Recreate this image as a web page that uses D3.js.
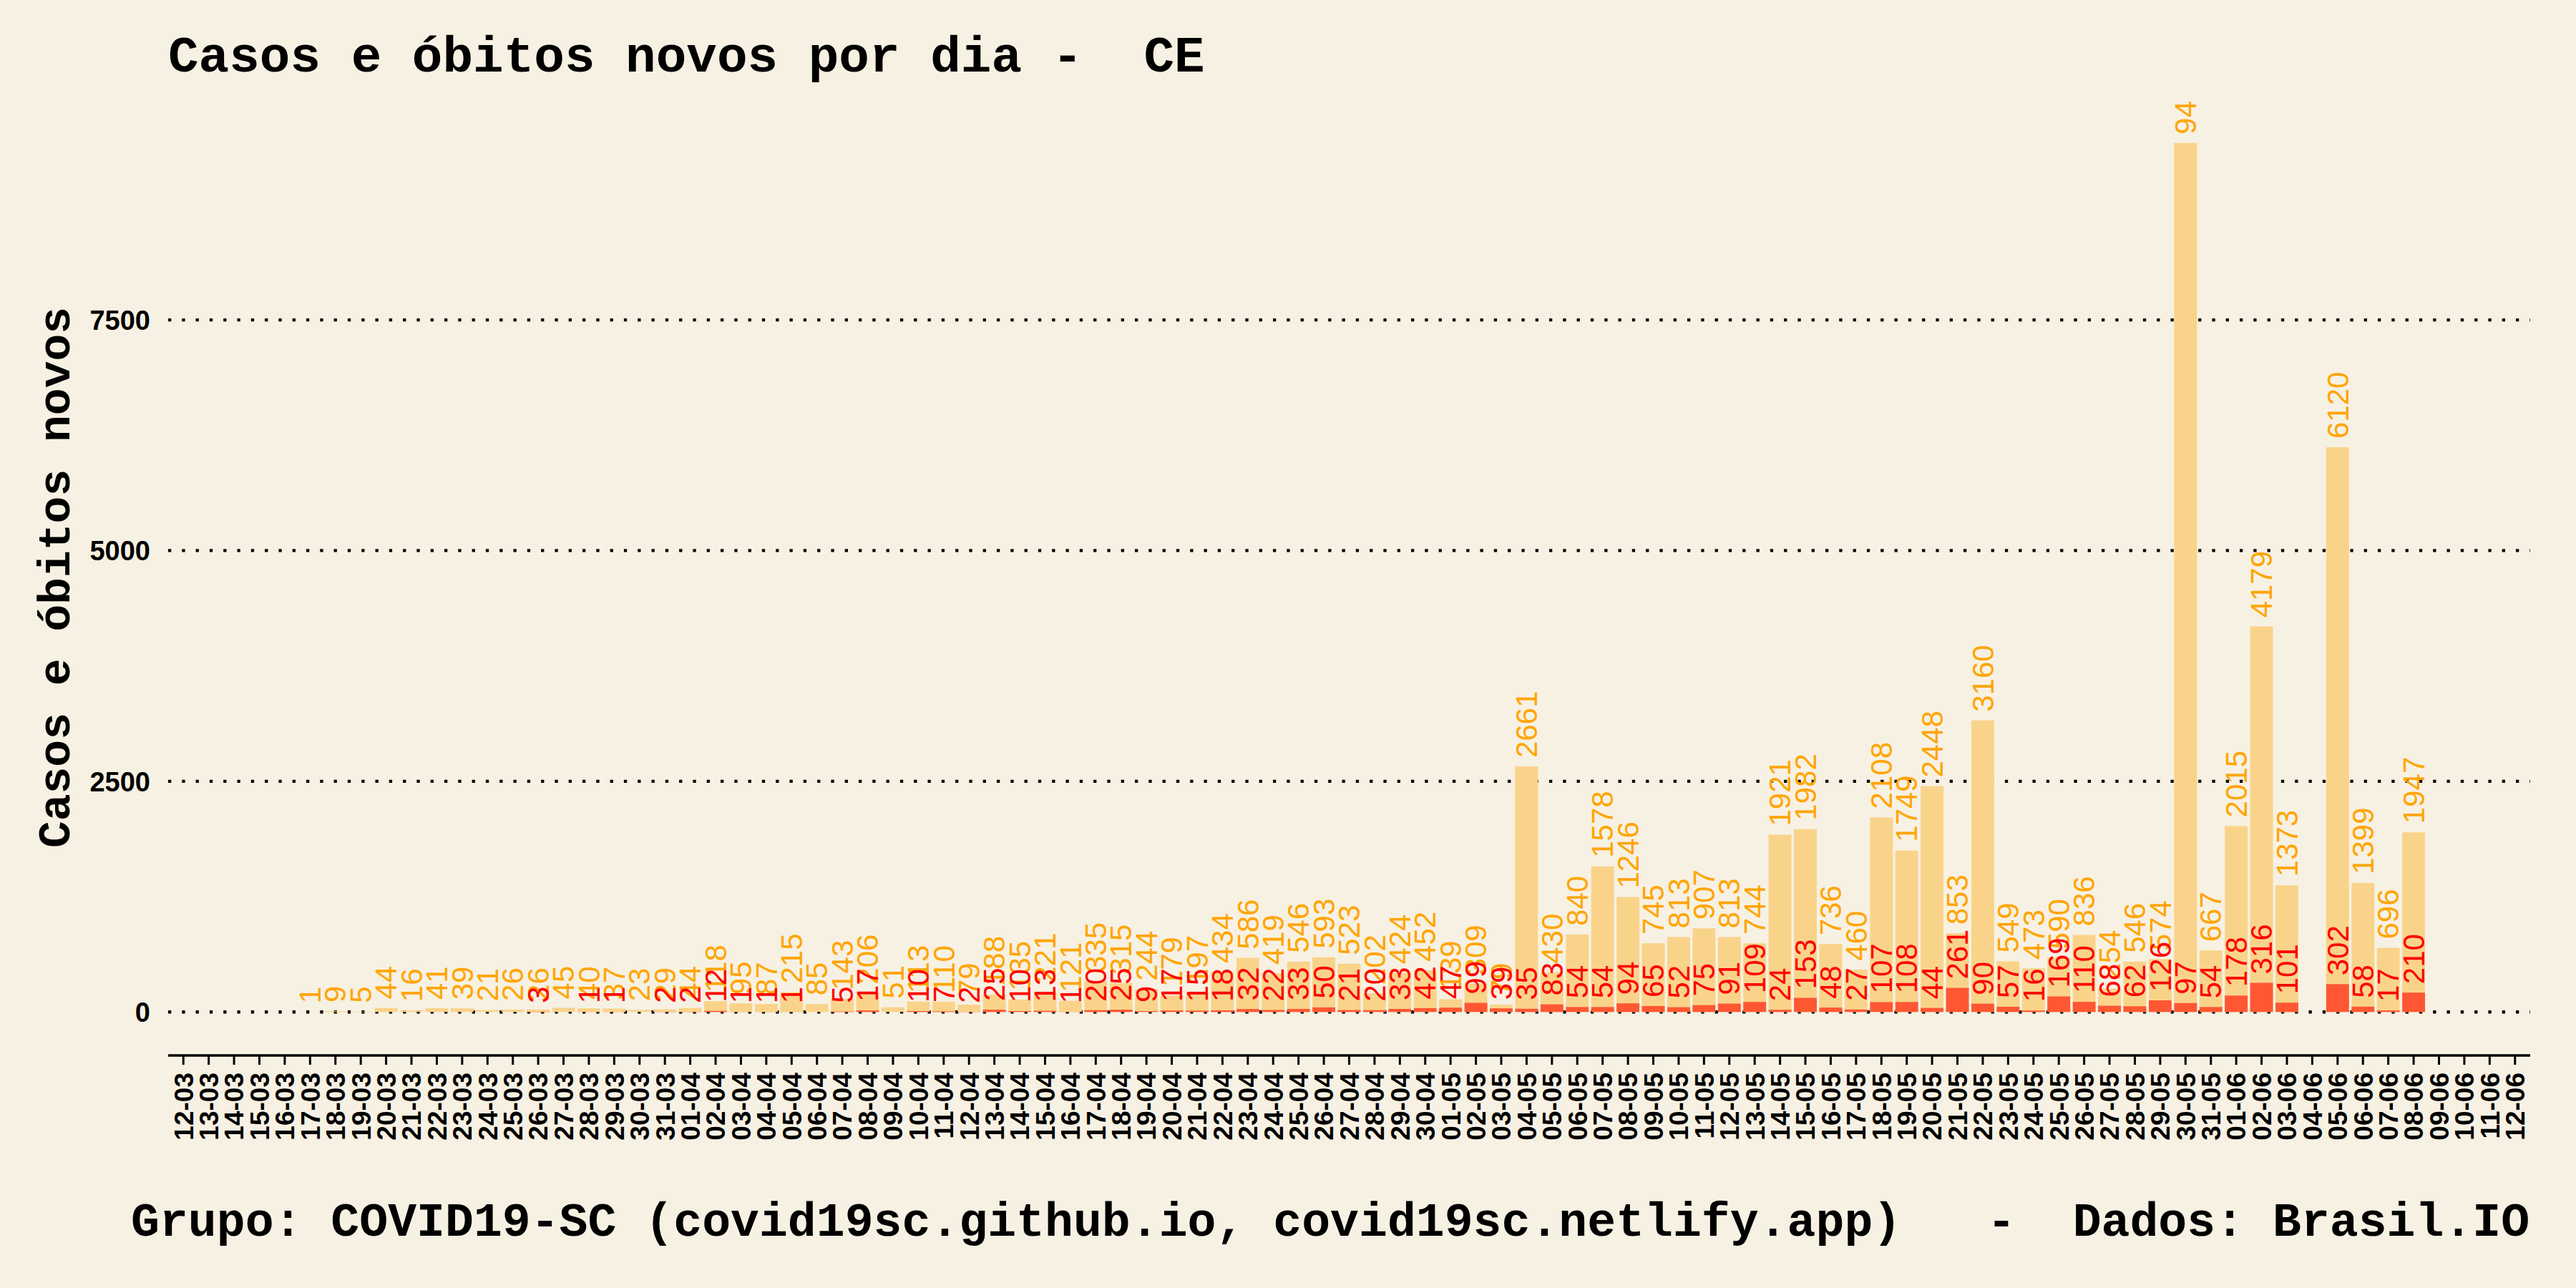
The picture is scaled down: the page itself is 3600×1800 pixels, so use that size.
<!DOCTYPE html>
<html><head><meta charset="utf-8">
<script src="https://cdn.jsdelivr.net/npm/d3@7"></script>
<style>html,body{margin:0;padding:0;background:#F7F1E3}</style>
</head><body>
<svg id="c" width="3600" height="1800"></svg>
<script>
const dates = [
"12-03","13-03","14-03","15-03","16-03","17-03","18-03","19-03","20-03","21-03","22-03","23-03","24-03","25-03","26-03","27-03","28-03","29-03","30-03","31-03",
"01-04","02-04","03-04","04-04","05-04","06-04","07-04","08-04","09-04","10-04","11-04","12-04","13-04","14-04","15-04","16-04","17-04","18-04","19-04","20-04","21-04","22-04","23-04","24-04","25-04","26-04","27-04","28-04","29-04","30-04",
"01-05","02-05","03-05","04-05","05-05","06-05","07-05","08-05","09-05","10-05","11-05","12-05","13-05","14-05","15-05","16-05","17-05","18-05","19-05","20-05","21-05","22-05","23-05","24-05","25-05","26-05","27-05","28-05","29-05","30-05","31-05",
"01-06","02-06","03-06","04-06","05-06","06-06","07-06","08-06","09-06","10-06","11-06","12-06"];
const cases = [
null,null,null,null,null,1,9,5,44,16,41,39,21,26,26,45,40,37,23,29,
44,118,95,87,215,85,143,206,51,113,110,79,188,135,221,121,335,315,244,179,197,434,586,419,546,593,523,202,424,452,
139,309,79,2661,430,840,1578,1246,745,813,907,813,744,1921,1982,736,460,2108,1749,2448,853,3160,549,473,590,836,254,546,574,9418,667,
2015,4179,1373,null,6120,1399,696,1947,null,null,null,null];
const deaths = [
null,null,null,null,null,0,0,0,0,0,0,0,0,0,3,0,1,1,0,2,
2,12,1,1,1,0,5,17,0,10,7,2,25,10,13,1,20,25,9,17,15,18,32,22,33,50,21,20,33,42,
47,99,39,35,83,54,54,94,65,52,75,91,109,24,153,48,27,107,108,44,261,90,57,16,169,110,68,62,126,97,54,
178,316,101,null,302,58,17,210,null,null,null,null];
const yTicks = [0, 2500, 5000, 7500];
const title = "Casos e óbitos novos por dia -  CE";
const yTitle = "Casos e óbitos novos";
const footer = "Grupo: COVID19-SC (covid19sc.github.io, covid19sc.netlify.app)   -  Dados: Brasil.IO";

const svg = d3.select("#c");
svg.append("rect").attr("width",3600).attr("height",1800).attr("fill","#F7F1E3");

const L = 235, R = 3536, T = 139, B = 1475;
const M = d3.max(cases);
const x = d3.scalePoint().domain(dates).range([L, R]).padding(0.6);
const bw = x.step() * 0.9;
const y = d3.scaleLinear().domain([-0.05 * M, 1.05 * M]).range([B, T]);

const rows = dates.map((d, i) => ({d, c: cases[i], m: deaths[i]}));

// grid
svg.append("g").selectAll("line").data(yTicks).join("line")
  .attr("x1", L).attr("x2", R).attr("y1", d => y(d)).attr("y2", d => y(d))
  .attr("stroke", "#000").attr("stroke-width", 4.3).attr("stroke-dasharray", "4.3,15");

// y tick labels
svg.append("g").selectAll("text").data(yTicks).join("text")
  .attr("x", 210).attr("y", d => y(d)).attr("dy", "0.36em")
  .attr("text-anchor", "end")
  .attr("font-family", "Liberation Sans, Arial, sans-serif").attr("font-weight", "bold").attr("font-size", 38)
  .text(d => d);

// bars
const bars = rows.filter(r => r.c != null);
svg.append("g").selectAll("rect").data(bars).join("rect")
  .attr("x", r => x(r.d) - bw / 2).attr("width", bw)
  .attr("y", r => y(r.c)).attr("height", r => y(0) - y(r.c))
  .attr("fill", "#FAD38A");
svg.append("g").selectAll("rect").data(bars.filter(r => r.m > 0)).join("rect")
  .attr("x", r => x(r.d) - bw / 2).attr("width", bw)
  .attr("y", r => y(r.m)).attr("height", r => y(0) - y(r.m))
  .attr("fill", "#FF5733");

// labels
function labels(key, color) {
  svg.append("g").selectAll("text").data(bars.filter(r => r[key] > 0)).join("text")
    .attr("transform", r => `translate(${x(r.d)},${y(r[key]) - 12}) rotate(-90)`)
    .attr("dy", "0.35em")
    .attr("text-anchor", "start")
    .attr("font-family", "Liberation Sans, Arial, sans-serif").attr("font-size", 42)
    .attr("fill", color)
    .text(r => r[key]);
}
labels("c", "#FFA500");
labels("m", "#FF0000");

// clip labels at panel top
svg.append("rect").attr("x", 0).attr("y", 0).attr("width", 3600).attr("height", T).attr("fill", "#F7F1E3");

// x axis
svg.append("line").attr("x1", L).attr("x2", R).attr("y1", B).attr("y2", B)
  .attr("stroke", "#000").attr("stroke-width", 3.5);
svg.append("g").selectAll("line").data(dates).join("line")
  .attr("x1", d => x(d)).attr("x2", d => x(d)).attr("y1", B).attr("y2", B + 13)
  .attr("stroke", "#000").attr("stroke-width", 3);
svg.append("g").selectAll("text").data(dates).join("text")
  .attr("transform", d => `translate(${x(d)},${B + 24}) rotate(-90)`)
  .attr("dy", "0.36em")
  .attr("text-anchor", "end")
  .attr("font-family", "Liberation Sans, Arial, sans-serif").attr("font-weight", "bold").attr("font-size", 37)
  .text(d => d);

// titles
svg.append("text").attr("x", 235).attr("y", 100)
  .attr("font-family", "Liberation Mono").attr("font-weight", "bold").attr("font-size", 71)
  .style("white-space", "pre")
  .text(title);
svg.append("text").attr("transform", `translate(97,${(T + B) / 2}) rotate(-90)`)
  .attr("text-anchor", "middle")
  .attr("font-family", "Liberation Mono").attr("font-weight", "bold").attr("font-size", 63)
  .text(yTitle);
svg.append("text").attr("x", 183).attr("y", 1727)
  .attr("font-family", "Liberation Mono").attr("font-weight", "bold").attr("font-size", 66.5)
  .style("white-space", "pre")
  .text(footer);
</script>
</body></html>
